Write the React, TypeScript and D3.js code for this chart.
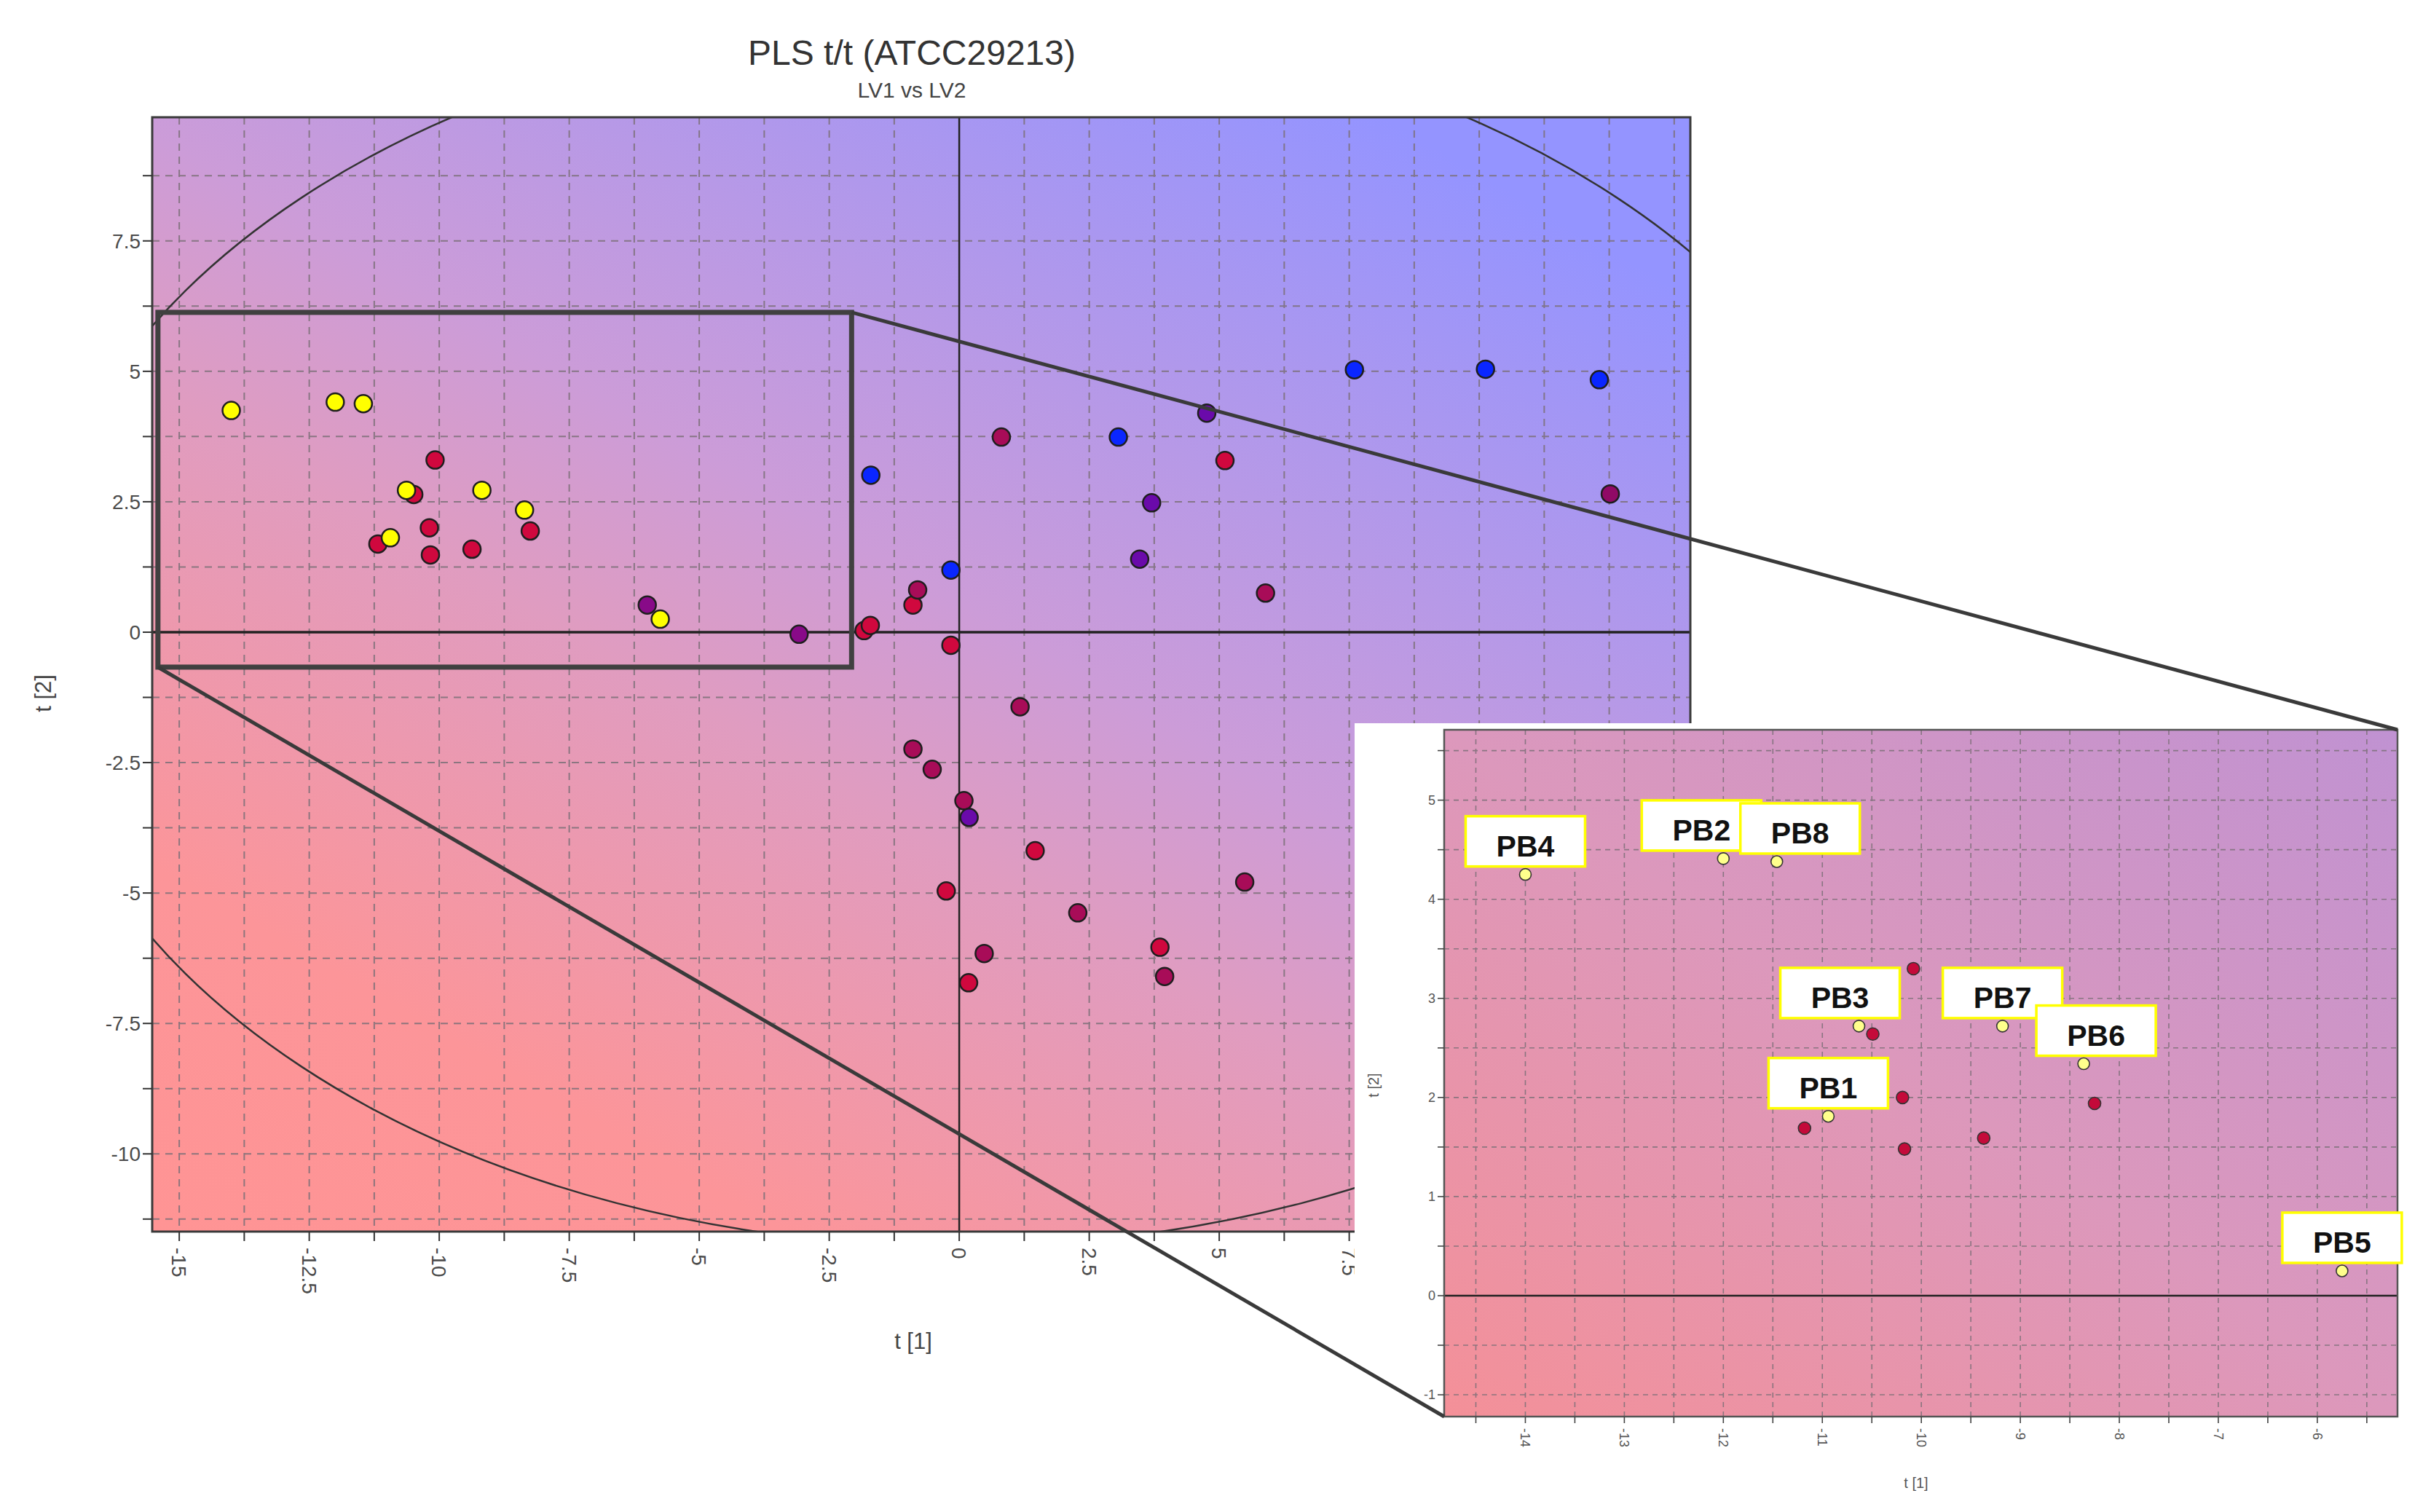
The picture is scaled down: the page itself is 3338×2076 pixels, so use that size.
import React from "react";
import * as d3 from "d3";

// PLS score plot, LV1 vs LV2, with a magnified inset of the PB samples

// labelled samples (yellow), in drawing order
const pbNames = ["PB4", "PB2", "PB8", "PB3", "PB7", "PB6", "PB1", "PB5"];
const pbT1 = [-14.0, -12.0, -11.46, -10.63, -9.18, -8.36, -10.94, -5.75];
const pbT2 = [4.25, 4.41, 4.38, 2.72, 2.72, 2.34, 1.81, 0.25];

// red samples sitting inside the zoom window
const nearT1 = [-10.08, -10.49, -10.19, -11.18, -10.17, -9.37, -8.25];
const nearT2 = [3.3, 2.64, 2.0, 1.69, 1.48, 1.59, 1.94];

// every other sample of the main plot
const otherT1 = [
  -6.0, -3.08, -1.7, -1.83, -1.71, -0.89, -0.8, -0.16, -0.16, 0.81, 1.17,
  -0.89, -0.52, 0.09, 0.19, 1.46, -0.25, 2.28, 0.48, 0.18, 3.86, 3.95, 5.49,
  3.06, 4.76, 5.11, 3.7, 3.47, 5.89, 7.6, 10.12, 12.31, 12.52,
];
const otherT2 = [
  0.52, -0.04, 3.01, 0.03, 0.13, 0.52, 0.81, 1.19, -0.25, 3.74, -1.43,
  -2.24, -2.63, -3.23, -3.55, -4.19, -4.96, -5.38, -6.16, -6.72, -6.04, -6.6,
  -4.79, 3.74, 4.2, 3.29, 2.48, 1.4, 0.75, 5.03, 5.04, 4.84, 2.65,
];
const otherGroup = [
  "P", "P", "B", "R", "R", "R", "M", "B", "R", "M", "M",
  "M", "M", "M", "V", "R", "R", "M", "M", "R", "R", "M",
  "M", "B", "V", "R", "V", "V", "M", "B", "B", "B", "D",
];

// Hotelling T2 ellipse half-axes
const ellipseA = 17.9;
const ellipseB = 11.77;

// zoom window drawn on the main plot
const zoomT1 = [-15.41, -2.07];
const zoomT2 = [-0.67, 6.13];

const mainXTicks = [-15, -12.5, -10, -7.5, -5, -2.5, 0, 2.5, 5, 7.5, 10, 12.5];
const mainYTicks = [-10, -7.5, -5, -2.5, 0, 2.5, 5, 7.5];
const insetXTicks = [-14, -13, -12, -11, -10, -9, -8, -7, -6];
const insetYTicks = [-1, 0, 1, 2, 3, 4, 5];

const groupColor: Record<string, string> = {
  Y: "#ffff00",
  R: "#d0083e",
  M: "#a80c58",
  D: "#900a66",
  P: "#880a88",
  V: "#6a0aaa",
  B: "#0a26ff",
};

// label boxes pushed sideways where they would collide (px)
const labelNudge: Record<string, number> = { PB2: -30, PB8: 32, PB3: -26, PB6: 17 };

const FONT = "'Liberation Sans', Arial, sans-serif";

export default function App() {
  const W = 3338, H = 2076;
  const m = { left: 209, right: 2321, top: 161, bottom: 1691 };
  const x = d3.scaleLinear().domain([-15.52, 14.06]).range([m.left, m.right]);
  const y = d3.scaleLinear().domain([-11.49, 9.87]).range([m.bottom, m.top]);

  const ins = { left: 1983, right: 3292, top: 1002, bottom: 1945 };
  const xi = d3.scaleLinear().domain([-14.82, -5.19]).range([ins.left, ins.right]);
  const yi = d3.scaleLinear().domain([-1.22, 5.71]).range([ins.bottom, ins.top]);

  const mainXMinor = d3.range(-15, 14.06, 1.25);
  const mainYMinor = d3.range(-11.25, 9.87, 1.25);
  const insXMinor = d3.range(-14.5, -5.19, 0.5);
  const insYMinor = d3.range(-1, 5.71, 0.5);

  const zx0 = x(zoomT1[0]), zx1 = x(zoomT1[1]);
  const zy0 = y(zoomT2[1]), zy1 = y(zoomT2[0]);

  return (
    <svg width={W} height={H} style={{ position: "absolute", left: 0, top: 0, background: "#fff" }}
      fontFamily={FONT}>
      <defs>
        <linearGradient id="mainBg" x1="0" y1="1" x2="0.8" y2="0">
          <stop offset="0" stopColor="#ff9494" />
          <stop offset="0.2" stopColor="#fc9599" />
          <stop offset="0.46" stopColor="#e09cc0" />
          <stop offset="0.6" stopColor="#cc9cd8" />
          <stop offset="1" stopColor="#9494ff" />
        </linearGradient>
        <linearGradient id="insetBg" x1="0" y1="1" x2="1" y2="0">
          <stop offset="0" stopColor="#f49098" />
          <stop offset="0.5" stopColor="#dc98bc" />
          <stop offset="1" stopColor="#c092d2" />
        </linearGradient>
        <clipPath id="mainClip">
          <rect x={m.left} y={m.top} width={m.right - m.left} height={m.bottom - m.top} />
        </clipPath>
      </defs>

      {/* titles */}
      <text x={1252} y={89} textAnchor="middle" fontSize={48} fill="#333">PLS t/t (ATCC29213)</text>
      <text x={1252} y={134} textAnchor="middle" fontSize={30} fill="#444">LV1 vs LV2</text>

      {/* main plot */}
      <rect x={m.left} y={m.top} width={m.right - m.left} height={m.bottom - m.top} fill="url(#mainBg)" />
      <g stroke="#7c7078" strokeWidth={2} strokeDasharray="10,8" opacity={0.85}>
        {mainXMinor.filter((v) => v !== 0).map((v) => (
          <line key={"gx" + v} x1={x(v)} x2={x(v)} y1={m.top} y2={m.bottom} />
        ))}
        {mainYMinor.filter((v) => v !== 0).map((v) => (
          <line key={"gy" + v} x1={m.left} x2={m.right} y1={y(v)} y2={y(v)} />
        ))}
      </g>
      <ellipse cx={x(0)} cy={y(0)} rx={x(ellipseA) - x(0)} ry={y(0) - y(ellipseB)}
        fill="none" stroke="#333" strokeWidth={2.5} clipPath="url(#mainClip)" />
      <line x1={m.left} x2={m.right} y1={y(0)} y2={y(0)} stroke="#222" strokeWidth={3.5} />
      <line x1={x(0)} x2={x(0)} y1={m.top} y2={m.bottom} stroke="#222" strokeWidth={2.5} />
      <rect x={m.left} y={m.top} width={m.right - m.left} height={m.bottom - m.top}
        fill="none" stroke="#3a3a3a" strokeWidth={3} />

      {/* main axes */}
      <g stroke="#333" strokeWidth={2}>
        {mainXMinor.map((v) => (
          <line key={"tx" + v} x1={x(v)} x2={x(v)} y1={m.bottom} y2={m.bottom + 13} />
        ))}
        {mainYMinor.map((v) => (
          <line key={"ty" + v} x1={m.left - 13} x2={m.left} y1={y(v)} y2={y(v)} />
        ))}
      </g>
      <g fontSize={28} fill="#4a4a4a">
        {mainXTicks.map((v) => (
          <text key={"lx" + v} transform={`translate(${x(v)},${m.bottom + 22}) rotate(90)`}
            textAnchor="start" dy="0.35em">{String(v)}</text>
        ))}
        {mainYTicks.map((v) => (
          <text key={"ly" + v} x={m.left - 16} y={y(v)} dy="0.35em" textAnchor="end">{String(v)}</text>
        ))}
      </g>
      <text x={1254} y={1852} textAnchor="middle" fontSize={31} fill="#444">t [1]</text>
      <text transform="translate(70,952) rotate(-90)" textAnchor="middle" fontSize={31} fill="#444">t [2]</text>

      {/* zoom window */}
      <rect x={zx0} y={zy0} width={zx1 - zx0} height={zy1 - zy0} fill="none" stroke="#404040" strokeWidth={7} />

      {/* main plot points */}
      <g stroke="#1e1e1e" strokeWidth={2.5}>
        {otherT1.map((v, i) => (
          <circle key={"o" + i} cx={x(v)} cy={y(otherT2[i])} r={12} fill={groupColor[otherGroup[i]]} />
        ))}
        {nearT1.map((v, i) => (
          <circle key={"n" + i} cx={x(v)} cy={y(nearT2[i])} r={12} fill={groupColor.R} />
        ))}
        {pbT1.map((v, i) => (
          <circle key={"p" + i} cx={x(v)} cy={y(pbT2[i])} r={12} fill={groupColor.Y} />
        ))}
      </g>

      {/* white panel for inset */}
      <rect x={1860} y={993} width={W - 1860} height={H - 993} fill="#fff" />

      {/* inset */}
      <rect x={ins.left} y={ins.top} width={ins.right - ins.left} height={ins.bottom - ins.top} fill="url(#insetBg)" />
      <g stroke="#7c7078" strokeWidth={1.6} strokeDasharray="7,6" opacity={0.85}>
        {insXMinor.map((v) => (
          <line key={"igx" + v} x1={xi(v)} x2={xi(v)} y1={ins.top} y2={ins.bottom} />
        ))}
        {insYMinor.filter((v) => v !== 0).map((v) => (
          <line key={"igy" + v} x1={ins.left} x2={ins.right} y1={yi(v)} y2={yi(v)} />
        ))}
      </g>
      <line x1={ins.left} x2={ins.right} y1={yi(0)} y2={yi(0)} stroke="#222" strokeWidth={2.5} />
      <rect x={ins.left} y={ins.top} width={ins.right - ins.left} height={ins.bottom - ins.top}
        fill="none" stroke="#555" strokeWidth={2.5} />
      <g stroke="#444" strokeWidth={1.6}>
        {insXMinor.map((v) => (
          <line key={"itx" + v} x1={xi(v)} x2={xi(v)} y1={ins.bottom} y2={ins.bottom + 9} />
        ))}
        {insYMinor.map((v) => (
          <line key={"ity" + v} x1={ins.left - 9} x2={ins.left} y1={yi(v)} y2={yi(v)} />
        ))}
      </g>
      <g fontSize={18} fill="#555">
        {insetXTicks.map((v) => (
          <text key={"ilx" + v} transform={`translate(${xi(v)},${ins.bottom + 16}) rotate(90)`}
            textAnchor="start" dy="0.35em">{String(v)}</text>
        ))}
        {insetYTicks.map((v) => (
          <text key={"ily" + v} x={ins.left - 12} y={yi(v)} dy="0.35em" textAnchor="end">{String(v)}</text>
        ))}
      </g>
      <text x={2631} y={2043} textAnchor="middle" fontSize={20} fill="#555">t [1]</text>
      <text transform="translate(1893,1490) rotate(-90)" textAnchor="middle" fontSize={20} fill="#555">t [2]</text>

      <g stroke="#333" strokeWidth={1.6}>
        {nearT1.map((v, i) => (
          <circle key={"in" + i} cx={xi(v)} cy={yi(nearT2[i])} r={8.5} fill="#c40a3a" />
        ))}
        {pbT1.map((v, i) => (
          <circle key={"ip" + i} cx={xi(v)} cy={yi(pbT2[i])} r={8} fill="#ffff8c" />
        ))}
      </g>
      {pbNames.map((name, i) => {
        const cx = xi(pbT1[i]) + (labelNudge[name] || 0);
        const py = yi(pbT2[i]);
        return (
          <g key={name}>
            <rect x={cx - 82} y={py - 80} width={164} height={69} fill="#fff" stroke="#ffff00" strokeWidth={3.5} />
            <text x={cx} y={py - 25} textAnchor="middle" fontSize={41} fontWeight="bold" fill="#111">{name}</text>
          </g>
        );
      })}

      {/* connectors from zoom window to inset */}
      <g stroke="#3a3a3a" strokeWidth={5}>
        <line x1={zx1} y1={zy0} x2={ins.right} y2={ins.top} />
        <line x1={zx0} y1={zy1} x2={ins.left} y2={ins.bottom} />
      </g>
    </svg>
  );
}
